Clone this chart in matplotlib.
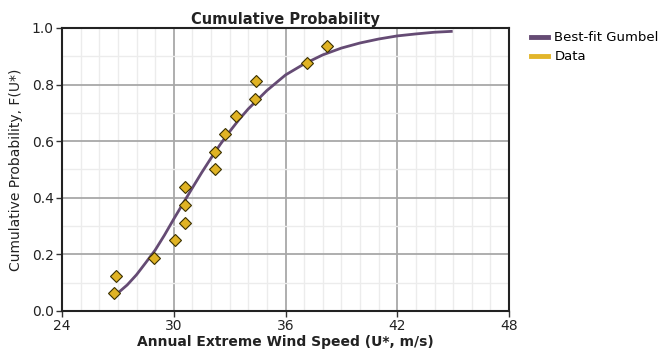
import matplotlib
matplotlib.use("Agg")
import matplotlib.pyplot as plt
from matplotlib.ticker import MultipleLocator

# data points (annual extreme wind speed, plotting position)
wind_speed = [26.77, 26.88, 28.95, 30.04, 30.58, 30.58, 30.58, 32.23, 32.23,
              32.74, 33.35, 34.35, 34.39, 37.13, 38.25]
cum_prob = [0.0625, 0.125, 0.1875, 0.25, 0.3125, 0.375, 0.4375, 0.5, 0.5625,
            0.625, 0.6875, 0.75, 0.8125, 0.875, 0.9375]

# best-fit gumbel curve
fit_x = [26.8, 27.5, 28.0, 28.5, 29.0, 29.5, 30.0, 30.5, 31.0, 31.5, 32.0, 32.5,
         33.0, 33.5, 34.0, 35.0, 36.0, 37.0, 38.0, 39.0, 40.0, 41.0, 42.0, 43.0,
         44.0, 44.9]
fit_y = [0.052, 0.092, 0.128, 0.171, 0.215, 0.268, 0.325, 0.380, 0.435, 0.489,
         0.540, 0.589, 0.634, 0.676, 0.714, 0.779, 0.834, 0.873, 0.905, 0.929,
         0.947, 0.961, 0.972, 0.979, 0.985, 0.988]

x_ticks = [24, 30, 36, 42, 48]
y_ticks = [0.0, 0.2, 0.4, 0.6, 0.8, 1.0]

fig = plt.figure(figsize=(6.71, 3.52), dpi=100)
ax = fig.add_axes([0.0924, 0.1165, 0.6662, 0.804])

ax.plot(fit_x, fit_y, color="#654b74", lw=2.0, zorder=3)
ax.plot(wind_speed, cum_prob, ls="none", marker="D", ms=6.2,
        mfc="#e0b324", mec="#3a3000", mew=0.8, zorder=4)

ax.set_xlim(24, 48)
ax.set_ylim(0, 1)
ax.set_xticks(x_ticks)
ax.set_yticks(y_ticks)
ax.set_yticklabels([f"{v:.1f}" for v in y_ticks])
ax.xaxis.set_minor_locator(MultipleLocator(1))
ax.yaxis.set_minor_locator(MultipleLocator(0.1))
ax.grid(which="major", color="#a8a8a8", lw=1.3, zorder=1)
ax.grid(which="minor", color="#ececec", lw=1.0, zorder=0)
ax.tick_params(which="major", length=4, width=1, labelsize=10, pad=2,
               colors="#333333", labelcolor="#222222")
ax.tick_params(which="minor", length=0)
for s in ax.spines.values():
    s.set_color("#222222")
    s.set_linewidth(1.5)

ax.set_title("Cumulative Probability", fontsize=10.5, fontweight="bold",
             color="#222222", pad=3)
ax.set_xlabel("Annual Extreme Wind Speed (U*, m/s)", fontsize=10,
              fontweight="bold", color="#222222", labelpad=1)
ax.set_ylabel("Cumulative Probability, F(U*)", fontsize=10,
              color="#222222", labelpad=6)

data_handle = plt.Line2D([], [], color="#e2b52a", lw=3.5)
line_handle = plt.Line2D([], [], color="#654b74", lw=3.5)
fig.legend([line_handle, data_handle], ["Best-fit Gumbel", "Data"],
           loc="upper left", bbox_to_anchor=(0.773, 0.945), frameon=False,
           fontsize=9.5, handlelength=1.3, handletextpad=0.5, labelspacing=0.45)

fig.savefig("out.png", dpi=100)
